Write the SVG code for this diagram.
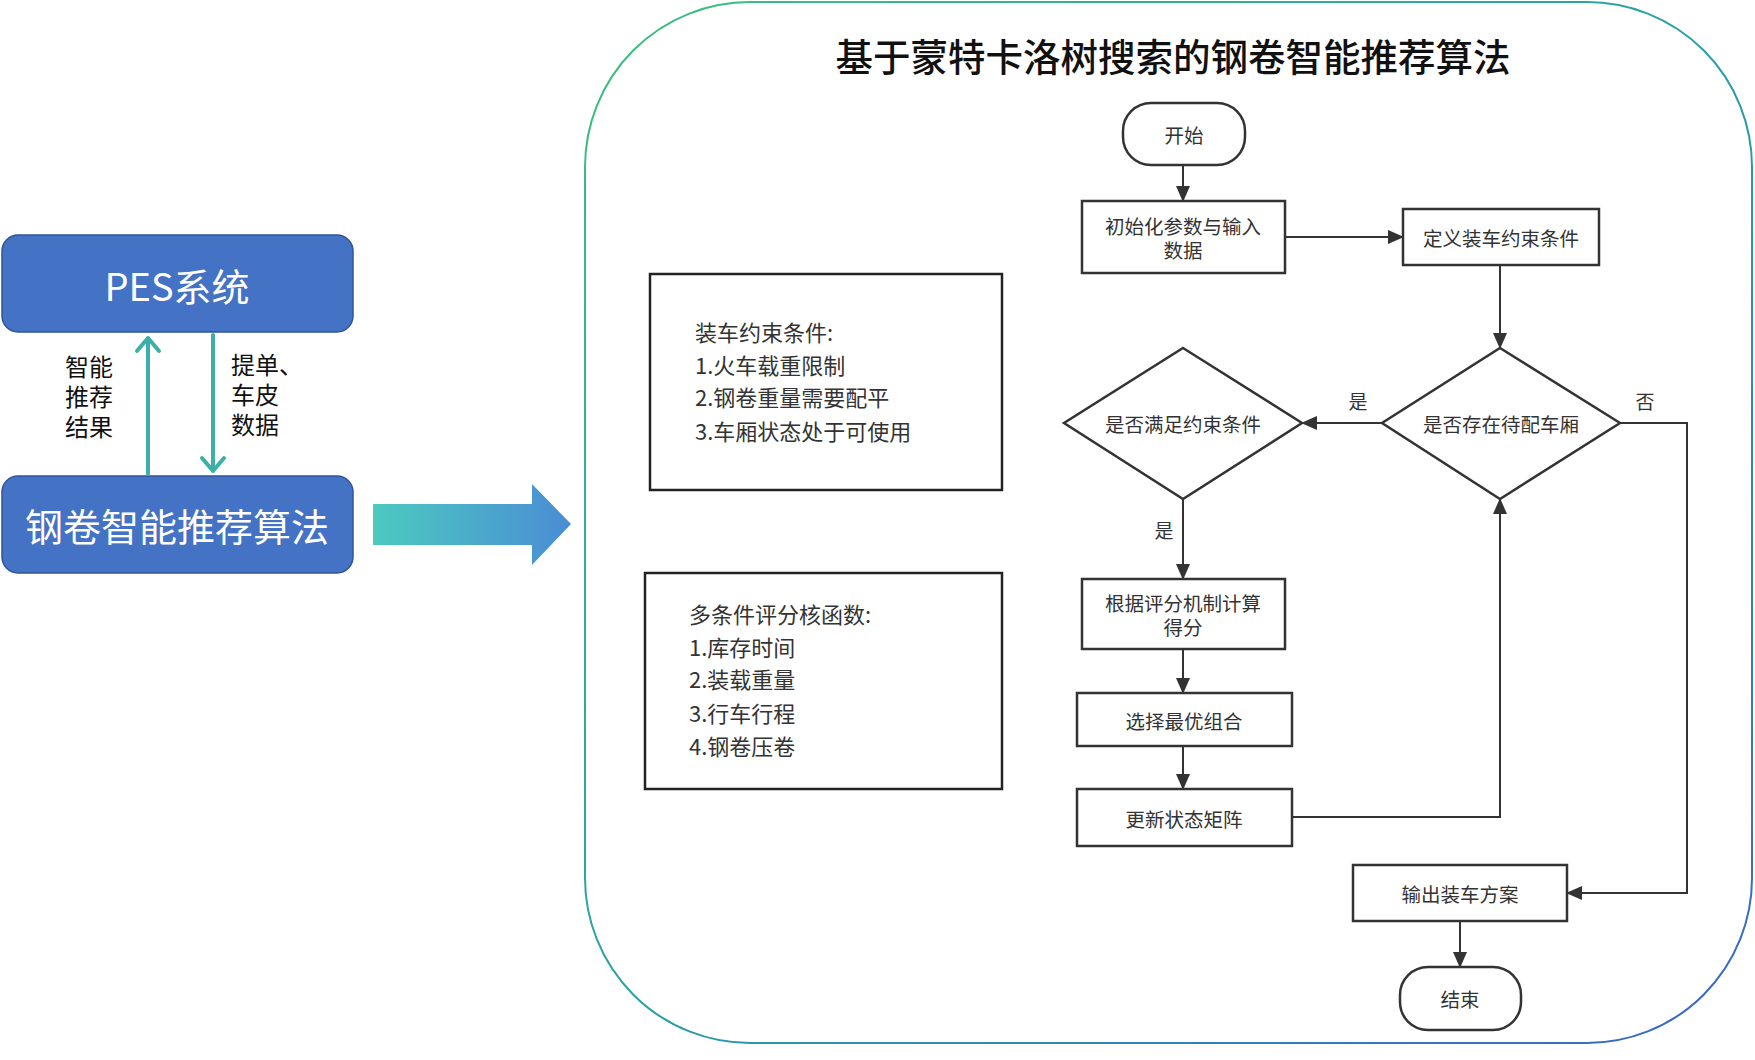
<svg xmlns="http://www.w3.org/2000/svg" width="1755" height="1060" viewBox="0 0 1755 1060">
  <defs>
    <linearGradient id="frameGrad" x1="0" y1="0" x2="1" y2="1">
      <stop offset="0" stop-color="#3cc07a"/>
      <stop offset="0.5" stop-color="#2a9fa6"/>
      <stop offset="1" stop-color="#3a64c8"/>
    </linearGradient>
    <linearGradient id="bigArrowGrad" x1="0" y1="0" x2="1" y2="0">
      <stop offset="0" stop-color="#4ccac0"/>
      <stop offset="1" stop-color="#4a8cd4"/>
    </linearGradient>
    <marker id="arr" markerUnits="userSpaceOnUse" markerWidth="16" markerHeight="14" refX="15" refY="7" orient="auto">
      <path d="M0,0 L16,7 L0,14 Z" fill="#333"/>
    </marker>
    <style>
      .cn { font-family: "Noto Sans CJK SC", "Noto Sans", sans-serif; }
      .blue { fill: #4472c4; stroke: #2f5597; stroke-width: 1.5; }
      .btxt { fill: #ffffff; font-size: 38px; text-anchor: middle; dominant-baseline: central; }
      .lbl { fill: #111; font-size: 24px; }
      .teal { stroke: #3cb0a8; stroke-width: 4; fill: none; stroke-linecap: round; stroke-linejoin: round; }
      .node { fill: #ffffff; stroke: #333; stroke-width: 2.5; }
      .ntxt { fill: #333; font-size: 19.5px; text-anchor: middle; dominant-baseline: central; }
      .conn { fill: none; stroke: #333; stroke-width: 2; }
      .ctxt { fill: #333; font-size: 19px; text-anchor: middle; dominant-baseline: central; }
      .box { fill: #ffffff; stroke: #222; stroke-width: 2.5; }
      .btext { fill: #333; font-size: 22px; }
    </style>
  </defs>

  <rect x="0" y="0" width="1755" height="1060" fill="#ffffff"/>

  <!-- Left system part -->
  <g id="pes">
    <rect class="blue" x="2" y="235" width="351" height="97" rx="16"/>
    <text class="cn btxt" x="177" y="284" font-size="39">PES系统</text>
  </g>
  <g id="algo">
    <rect class="blue" x="2" y="476" width="351" height="97" rx="16"/>
    <text class="cn btxt" x="177" y="524">钢卷智能推荐算法</text>
  </g>
  <g id="left-links">
    <path class="teal" d="M148,474 L148,338 M137,351 L148,338 L159,351"/>
    <path class="teal" d="M213,335 L213,471 M202,458 L213,471 L224,458"/>
    <text class="cn lbl" x="65" y="376"><tspan x="65" y="376">智能</tspan><tspan x="65" y="406">推荐</tspan><tspan x="65" y="436">结果</tspan></text>
    <text class="cn lbl" x="231" y="374"><tspan x="231" y="374">提单、</tspan><tspan x="231" y="404">车皮</tspan><tspan x="231" y="434">数据</tspan></text>
  </g>
  <g id="big-arrow">
    <polygon points="373,504 532,504 532,484 571,524 532,565 532,545 373,545" fill="url(#bigArrowGrad)"/>
  </g>

  <!-- Container -->
  <g id="container">
    <rect x="585" y="2" width="1167" height="1041" rx="165" ry="165" fill="none" stroke="url(#frameGrad)" stroke-width="2"/>
    <text class="cn" x="1173" y="54" font-size="37.5" font-weight="500" fill="#111" text-anchor="middle" dominant-baseline="central">基于蒙特卡洛树搜索的钢卷智能推荐算法</text>
  </g>

  <!-- Info boxes -->
  <g id="constraints">
    <rect class="box" x="650" y="274" width="352" height="216"/>
    <text class="cn btext" x="695" y="341">装车约束条件:</text>
    <text class="cn btext" x="695" y="374">1.火车载重限制</text>
    <text class="cn btext" x="695" y="406">2.钢卷重量需要配平</text>
    <text class="cn btext" x="695" y="440">3.车厢状态处于可使用</text>
  </g>
  <g id="scoring">
    <rect class="box" x="645" y="573" width="357" height="216"/>
    <text class="cn btext" x="689" y="623">多条件评分核函数:</text>
    <text class="cn btext" x="689" y="656">1.库存时间</text>
    <text class="cn btext" x="689" y="688">2.装载重量</text>
    <text class="cn btext" x="689" y="722">3.行车行程</text>
    <text class="cn btext" x="689" y="755">4.钢卷压卷</text>
  </g>

  <!-- Flowchart nodes -->
  <g id="start">
    <rect class="node" x="1123" y="103" width="122" height="62" rx="28"/>
    <text class="cn ntxt" x="1184" y="134">开始</text>
  </g>
  <g id="init">
    <rect class="node" x="1082" y="201" width="203" height="72"/>
    <text class="cn ntxt" x="1183" y="225">初始化参数与输入</text>
    <text class="cn ntxt" x="1183" y="249">数据</text>
  </g>
  <g id="define">
    <rect class="node" x="1403" y="209" width="196" height="56"/>
    <text class="cn ntxt" x="1501" y="237">定义装车约束条件</text>
  </g>
  <g id="has-car">
    <polygon class="node" points="1500,348 1620,423 1500,499 1382,423"/>
    <text class="cn ntxt" x="1501" y="423">是否存在待配车厢</text>
  </g>
  <g id="meets">
    <polygon class="node" points="1183,348 1302,423 1183,499 1064,423"/>
    <text class="cn ntxt" x="1183" y="423">是否满足约束条件</text>
  </g>
  <g id="score">
    <rect class="node" x="1082" y="579" width="203" height="70"/>
    <text class="cn ntxt" x="1183" y="602">根据评分机制计算</text>
    <text class="cn ntxt" x="1183" y="626">得分</text>
  </g>
  <g id="select">
    <rect class="node" x="1077" y="693" width="215" height="53"/>
    <text class="cn ntxt" x="1184" y="720">选择最优组合</text>
  </g>
  <g id="update">
    <rect class="node" x="1077" y="789" width="215" height="57"/>
    <text class="cn ntxt" x="1184" y="818">更新状态矩阵</text>
  </g>
  <g id="output">
    <rect class="node" x="1353" y="865" width="214" height="56"/>
    <text class="cn ntxt" x="1460" y="893">输出装车方案</text>
  </g>
  <g id="end">
    <rect class="node" x="1400" y="967" width="121" height="63" rx="28"/>
    <text class="cn ntxt" x="1460" y="998">结束</text>
  </g>

  <!-- Connectors -->
  <g id="connectors">
    <path class="conn" d="M1183,165 L1183,201" marker-end="url(#arr)"/>
    <path class="conn" d="M1285,237 L1403,237" marker-end="url(#arr)"/>
    <path class="conn" d="M1500,265 L1500,348" marker-end="url(#arr)"/>
    <path class="conn" d="M1382,423 L1302,423" marker-end="url(#arr)"/>
    <text class="cn ctxt" x="1358" y="400">是</text>
    <path class="conn" d="M1620,423 L1687,423 L1687,893 L1567,893" marker-end="url(#arr)"/>
    <text class="cn ctxt" x="1645" y="400">否</text>
    <path class="conn" d="M1183,499 L1183,579" marker-end="url(#arr)"/>
    <text class="cn ctxt" x="1164" y="529">是</text>
    <path class="conn" d="M1183,649 L1183,693" marker-end="url(#arr)"/>
    <path class="conn" d="M1183,746 L1183,789" marker-end="url(#arr)"/>
    <path class="conn" d="M1292,817 L1500,817 L1500,499" marker-end="url(#arr)"/>
    <path class="conn" d="M1460,921 L1460,967" marker-end="url(#arr)"/>
  </g>
</svg>
